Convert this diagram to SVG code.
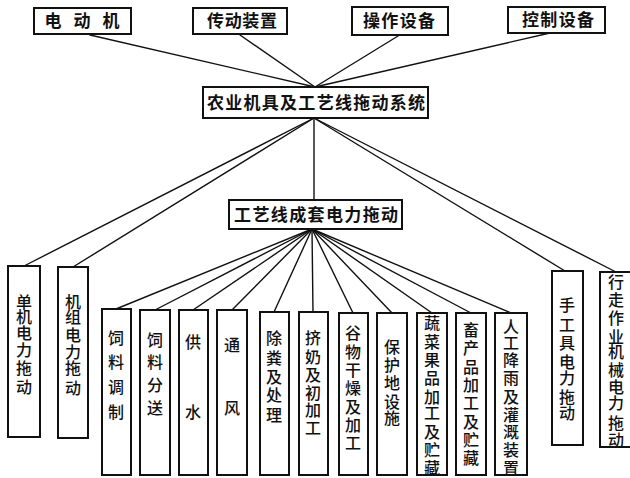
<svg xmlns="http://www.w3.org/2000/svg" width="630" height="478" viewBox="0 0 630 478">
<style>
.box{fill:#fff;stroke:#111;stroke-width:2}
.ln{stroke:#111;stroke-width:1.4;fill:none;stroke-linecap:round}
.t{font-family:"Noto Sans CJK SC","Noto Sans CJK TC",sans-serif;fill:#111;text-anchor:middle}
.h{font-size:17px;font-weight:700}
.m{font-size:17px;font-weight:600}
.v{font-size:16px;font-weight:500}
</style>
<rect width="630" height="478" fill="#fff"/>
<g id="connectors">
<line class="ln" x1="90" y1="35" x2="315" y2="87"/>
<line class="ln" x1="240" y1="35" x2="315" y2="87"/>
<line class="ln" x1="398" y1="36" x2="315" y2="87"/>
<line class="ln" x1="550" y1="33" x2="315" y2="87"/>
<line class="ln" x1="314" y1="118" x2="24" y2="266"/>
<line class="ln" x1="314" y1="118" x2="73" y2="267"/>
<line class="ln" x1="314" y1="118" x2="314" y2="200"/>
<line class="ln" x1="314" y1="118" x2="565" y2="271"/>
<line class="ln" x1="314" y1="118" x2="616" y2="272"/>
<line class="ln" x1="312" y1="229" x2="116" y2="309"/>
<line class="ln" x1="312" y1="229" x2="155" y2="310"/>
<line class="ln" x1="312" y1="229" x2="193" y2="310"/>
<line class="ln" x1="312" y1="229" x2="232" y2="310"/>
<line class="ln" x1="312" y1="229" x2="274" y2="312"/>
<line class="ln" x1="312" y1="229" x2="313" y2="312"/>
<line class="ln" x1="312" y1="229" x2="353" y2="313"/>
<line class="ln" x1="312" y1="229" x2="392" y2="313"/>
<line class="ln" x1="312" y1="229" x2="432" y2="313"/>
<line class="ln" x1="312" y1="229" x2="471" y2="313"/>
<line class="ln" x1="312" y1="229" x2="511" y2="313"/>
</g>
<g id="n-motor"><rect class="box" x="34" y="8" width="97" height="26"/><text class="t h" x="53 82 111" y="27">电动机</text></g>
<g id="n-transmission"><rect class="box" x="193" y="8" width="94" height="26"/><text class="t h" x="242" y="27" textLength="70" lengthAdjust="spacing">传动装置</text></g>
<g id="n-operation"><rect class="box" x="352" y="7" width="96" height="28"/><text class="t h" x="399" y="27" textLength="72" lengthAdjust="spacing">操作设备</text></g>
<g id="n-control"><rect class="box" x="508" y="7" width="97" height="26"/><text class="t h" x="558" y="26" textLength="72" lengthAdjust="spacing">控制设备</text></g>
<g id="n-system"><rect class="box" x="203" y="87" width="225" height="31"/><text class="t m" x="316" y="109" textLength="218" lengthAdjust="spacing">农业机具及工艺线拖动系统</text></g>
<g id="n-line"><rect class="box" x="229" y="200" width="173" height="29"/><text class="t m" x="316" y="221" textLength="164" lengthAdjust="spacing">工艺线成套电力拖动</text></g>
<g id="n-single"><rect class="box" x="8" y="266" width="32" height="171"/><text class="t v" x="24 24 24 24 24 24" y="308 323 339 356 374 393">单机电力拖动</text></g>
<g id="n-unit"><rect class="box" x="58" y="267" width="30" height="171"/><text class="t v" x="73 73 73 73 73 73" y="308 323 341 358 374 394">机组电力拖动</text></g>
<g id="n-feedprep"><rect class="box" x="102" y="309" width="29" height="166"/><text class="t v" x="116 116 116 116" y="344 368 393 418">饲料调制</text></g>
<g id="n-feeddist"><rect class="box" x="140" y="310" width="30" height="165"/><text class="t v" x="155 155 155 155" y="346 368 391 414">饲料分送</text></g>
<g id="n-water"><rect class="box" x="179" y="310" width="29" height="165"/><text class="t v" x="193 193" y="348 418">供水</text></g>
<g id="n-vent"><rect class="box" x="217" y="310" width="30" height="165"/><text class="t v" x="232 232" y="351 414">通风</text></g>
<g id="n-manure"><rect class="box" x="260" y="312" width="29" height="163"/><text class="t v" x="274 274 274 274 274" y="344 364 383 401 421">除粪及处理</text></g>
<g id="n-milk"><rect class="box" x="299" y="312" width="29" height="163"/><text class="t v" x="313 313 313 313 313 313" y="344 363 381 399 416 434">挤奶及初加工</text></g>
<g id="n-grain"><rect class="box" x="339" y="313" width="29" height="162"/><text class="t v" x="353 353 353 353 353 353 353" y="339 358 376 394 413 431 449">谷物干燥及加工</text></g>
<g id="n-protected"><rect class="box" x="377" y="313" width="30" height="162"/><text class="t v" x="392 392 392 392 392" y="353 371 389 408 424">保护地设施</text></g>
<g id="n-vegetable"><rect class="box" x="417" y="313" width="30" height="162"/><text class="t v" x="432 432 432 432 432 432 432 432 432" y="329 348 366 384 403 419 438 456 474">蔬菜果品加工及贮藏</text></g>
<g id="n-livestock"><rect class="box" x="456" y="313" width="30" height="162"/><text class="t v" x="471 471 471 471 471 471 471 471" y="336 354 373 391 409 428 446 464">畜产品加工及贮藏</text></g>
<g id="n-irrigation"><rect class="box" x="495" y="313" width="32" height="162"/><text class="t v" x="511 511 511 511 511 511 511 511 511" y="333 349 366 384 403 421 438 456 474">人工降雨及灌溉装置</text></g>
<g id="n-handtool"><rect class="box" x="552" y="271" width="31" height="174"/><text class="t v" x="567 567 567 567 567 567 567" y="311 331 349 368 384 403 419">手工具电力拖动</text></g>
<g id="n-mobile"><rect class="box" x="600" y="272" width="31" height="175"/><text class="t v" x="616 616 616 616 616 616 616 616 616 616" y="288 306 324 343 358 376 393 409 429 446">行走作业机械电力拖动</text></g>
</svg>
